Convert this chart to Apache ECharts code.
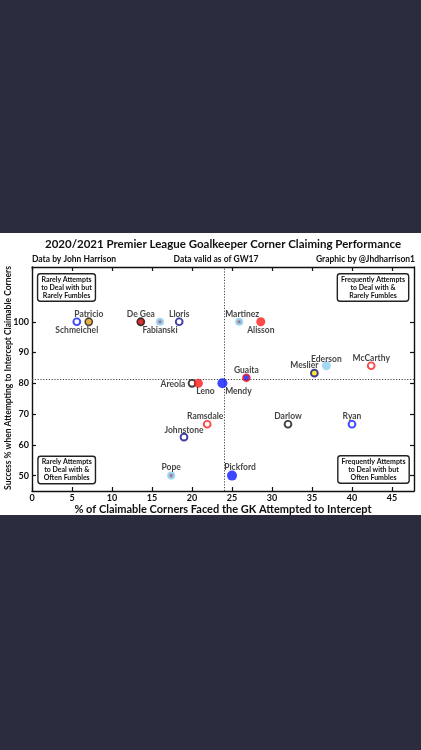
<!DOCTYPE html>
<html>
<head>
<meta charset="utf-8">
<script src="https://cdn.jsdelivr.net/npm/echarts@6/dist/echarts.min.js"></script>
<style>
    html, body { margin: 0; padding: 0; background: #2b2c3e; }
    #chart { width: 421px; height: 750px; }
</style>
</head>
<body>
<div id="chart"></div>
<script>
// 数据
var keepers = ['Schmeichel', 'Patricio', 'De Gea', 'Fabianski', 'Lloris', 'Areola', 'Leno', 'Martinez', 'Alisson', 'Ederson',
    'McCarthy', 'Meslier', 'Guaita', 'Mendy', 'Ramsdale', 'Johnstone', 'Pope', 'Darlow', 'Ryan', 'Pickford'];
var attemptPct = [5.6, 7.1, 13.6, 16.0, 18.4, 20.0, 20.8, 25.9, 28.6, 36.8,
    42.4, 35.3, 26.8, 23.8, 21.9, 19.0, 17.4, 32.0, 40.0, 25.0];
var successPct = [100, 100, 100, 100, 100, 80, 80, 100, 100, 85.7,
    85.7, 83.3, 81.8, 80, 66.7, 62.5, 50, 66.7, 66.7, 50];
var meanAttempt = 24.0;
var meanSuccess = 81.4;
var xTicks = [0, 5, 10, 15, 20, 25, 30, 35, 40, 45];
var yTicks = [50, 60, 70, 80, 90, 100];

(function (window, echarts) {
    var BLUE = '#0a1aff', NAVY = '#12128c', RED = '#ff1a1a', SKY = '#8fd0f0', CLARET = '#a3283f';

    // 每个点的样式: [填充, 边框, 边框宽, 大小]
    var markerStyles = {
        'Schmeichel': ['#fff', BLUE, 1.9, 6.8],
        'Patricio': ['#e39b17', '#222', 1.6, 7.2],
        'De Gea': ['#cc0000', '#111', 1.6, 7.2],
        'Fabianski': [CLARET, SKY, 3, 5.2],
        'Lloris': ['#fff', NAVY, 1.9, 6.8],
        'Areola': ['#fff', '#111', 1.9, 6.8],
        'Leno': [RED, RED, 0, 9],
        'Martinez': [CLARET, SKY, 3, 5.2],
        'Alisson': [RED, RED, 0, 9],
        'Ederson': [SKY, SKY, 0, 9],
        'McCarthy': ['#fff', RED, 1.9, 6.8],
        'Meslier': ['#ffe600', NAVY, 1.9, 6.8],
        'Guaita': [BLUE, RED, 1.9, 6.8],
        'Mendy': [BLUE, BLUE, 0, 10],
        'Ramsdale': ['#fff', RED, 1.9, 6.8],
        'Johnstone': ['#fff', NAVY, 1.9, 6.8],
        'Pope': [CLARET, SKY, 3, 5.2],
        'Darlow': ['#fff', '#111', 1.9, 6.8],
        'Ryan': ['#fff', BLUE, 1.9, 6.8],
        'Pickford': [BLUE, BLUE, 0, 10]
    };

    // 标签相对点中心的偏移
    var labelOffsets = {
        'Schmeichel': [0, 8], 'Patricio': [0, -8], 'De Gea': [0, -8], 'Fabianski': [0, 8],
        'Lloris': [0, -8], 'Areola': [-19, 1], 'Leno': [7, 8], 'Martinez': [3, -8],
        'Alisson': [0, 8], 'Ederson': [0, -7], 'McCarthy': [0, -8], 'Meslier': [-10, -8],
        'Guaita': [0, -8], 'Mendy': [16, 8], 'Ramsdale': [-2, -8], 'Johnstone': [0, -7],
        'Pope': [0, -8], 'Darlow': [0, -8], 'Ryan': [0, -8], 'Pickford': [8, -8]
    };

    var FONT = 'Lato';

    var points = keepers.map(function (name, i) {
        var s = markerStyles[name];
        return {
            name: name,
            value: [attemptPct[i], successPct[i]],
            symbolSize: s[3],
            itemStyle: { color: s[0], borderColor: s[1], borderWidth: s[2] },
            label: { offset: labelOffsets[name] }
        };
    });

    function cornerBox(text, x, y) {
        return {
            type: 'text',
            z: 10,
            style: {
                x: x, y: y,
                text: text,
                align: 'center',
                verticalAlign: 'middle',
                fontFamily: FONT,
                fontWeight: 'bold',
                fontSize: 7,
                lineHeight: 8,
                fill: '#111',
                backgroundColor: '#fff',
                borderColor: '#222',
                borderWidth: 1.4,
                borderRadius: 2,
                padding: [1, 3, 1, 3]
            }
        };
    }

    function plainText(text, x, y, align, size) {
        return {
            type: 'text',
            style: {
                x: x, y: y, text: text, align: align, verticalAlign: 'middle',
                fontFamily: FONT, fontWeight: 'bold', fontSize: size, fill: '#111'
            }
        };
    }

    function axisBase(pos, min, max, ticks, showLabel) {
        return {
            type: 'value',
            position: pos,
            min: min,
            max: max,
            splitLine: { show: false },
            axisLine: { show: true, onZero: false, lineStyle: { color: '#111', width: 1.4 } },
            axisTick: { show: true, inside: true, length: 4, customValues: ticks, lineStyle: { color: '#111', width: 1.2 } },
            axisLabel: { show: showLabel, customValues: ticks, color: '#111', fontFamily: FONT, fontWeight: 'bold', fontSize: 9, margin: 3 }
        };
    }

    var xBottom = axisBase('bottom', 0, 47.75, xTicks, true);
    xBottom.name = '% of Claimable Corners Faced the GK Attempted to Intercept';
    xBottom.nameLocation = 'middle';
    xBottom.nameGap = 12;
    xBottom.nameTextStyle = { color: '#111', fontFamily: FONT, fontWeight: 'bold', fontSize: 11 };

    // y轴标题
    var yTitle = plainText('Success % when Attempting to Intercept Claimable Corners', 0, 0, 'center', 8.5);
    yTitle.x = 8;
    yTitle.y = 378;
    yTitle.rotation = Math.PI / 2;

    var chart = echarts.init(document.getElementById('chart'));
    chart.setOption({
        backgroundColor: '#2b2c3e',
        animation: false,
        graphic: [
            { type: 'rect', z: -10, shape: { x: 0, y: 233, width: 421, height: 282 }, style: { fill: '#fff' } },
            plainText('2020/2021 Premier League Goalkeeper Corner Claiming Performance', 223, 244, 'center', 11.5),
            plainText('Data by John Harrison', 32, 259, 'left', 8.5),
            plainText('Data valid as of GW17', 216, 259, 'center', 8.5),
            plainText('Graphic by @Jhdharrison1', 415, 259, 'right', 8.5),
            yTitle,
            cornerBox('Rarely Attempts\nto Deal with but\nRarely Fumbles', 66.5, 287.5),
            cornerBox('Frequently Attempts\nto Deal with &\nRarely Fumbles', 373, 287.5),
            cornerBox('Rarely Attempts\nto Deal with &\nOften Fumbles', 66.7, 470),
            cornerBox('Frequently Attempts\nto Deal with but\nOften Fumbles', 373.5, 469.5)
        ],
        grid: { left: 32, right: 7, top: 267, bottom: 259, containLabel: false, outerBoundsMode: 'none' },
        xAxis: [xBottom, axisBase('top', 0, 47.75, xTicks, false)],
        yAxis: [axisBase('left', 45, 117.8, yTicks, true), axisBase('right', 45, 117.8, yTicks, false)],
        series: [{
            type: 'scatter',
            symbol: 'circle',
            data: points,
            label: {
                show: true,
                position: 'inside',
                formatter: '{b}',
                color: '#111',
                fontFamily: FONT,
                fontWeight: 'bold',
                fontSize: 8.5
            },
            markLine: {
                silent: true,
                symbol: 'none',
                label: { show: false },
                lineStyle: { type: [1.2, 1.6], color: '#444', width: 1 },
                data: [{ xAxis: meanAttempt }, { yAxis: meanSuccess }]
            },
            z: 5
        }]
    });
})(window, echarts);
</script>
</body>
</html>
